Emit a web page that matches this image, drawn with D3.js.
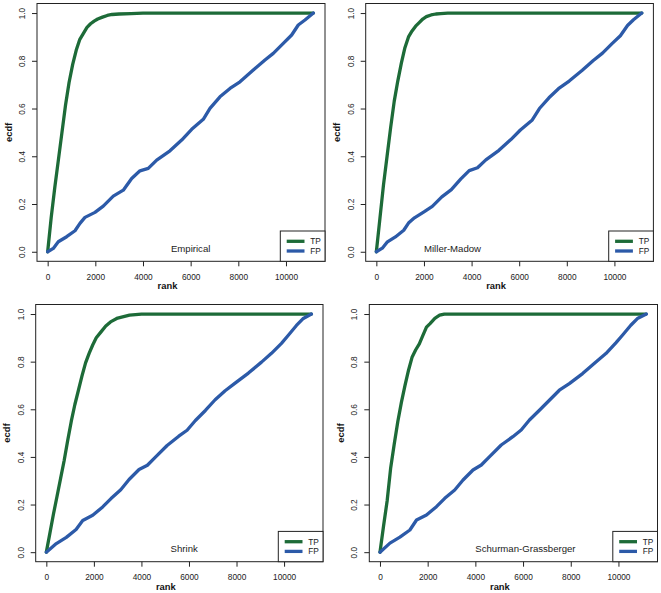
<!DOCTYPE html>
<html><head><meta charset="utf-8">
<script src="https://cdn.jsdelivr.net/npm/d3@7"></script>
<style>html,body{margin:0;padding:0;background:#fff;}svg{display:block;}</style>
</head><body>
<svg id="chart" width="661" height="593"></svg>
<script>
// ---- data ----
const panelNames = ["Empirical", "Miller-Madow", "Shrink", "Schurman-Grassberger"];
const labelRanks = [6000, 3200, 5800, 6100];
const seriesNames = ["TP", "FP"];
const xTicks = [0, 2000, 4000, 6000, 8000, 10000];
const yTicks = [0, 0.2, 0.4, 0.6, 0.8, 1.0];
const rankMax = 11190;

const tpRanks = [0,150,300,450,600,750,900,1050,1200,1350,1500,1650,1800,1950,2100,2300,2500,2700,3000,3500,4000,11150];
const tpEmpirical = [0,0.145,0.27,0.385,0.5,0.615,0.71,0.785,0.845,0.89,0.915,0.94,0.955,0.966,0.975,0.983,0.99,0.994,0.996,0.998,1,1];
const tpMillerMadow = [0,0.14,0.28,0.40,0.52,0.63,0.715,0.79,0.855,0.9,0.925,0.945,0.96,0.975,0.985,0.992,0.996,0.998,1,1,1,1];
const tpShrink = [0,0.08,0.16,0.235,0.31,0.385,0.47,0.55,0.62,0.68,0.74,0.795,0.835,0.87,0.9,0.925,0.95,0.967,0.983,0.995,1,1];
const tpSchurman = [0,0.11,0.215,0.355,0.455,0.55,0.63,0.70,0.765,0.82,0.85,0.875,0.91,0.945,0.96,0.982,0.995,1,1,1,1,1];

const fpEmpRank = [0,236,446,797,1146,1355,1565,1985,2333,2753,3173,3525,3873,4221,4574,5132,5623,6043,6530,6811,7230,7650,8070,8628,9119,9467,9887,10239,10516,10797,11150];
const fpEmpValue = [0,0.014,0.042,0.063,0.088,0.119,0.144,0.165,0.191,0.233,0.258,0.307,0.339,0.349,0.384,0.423,0.468,0.513,0.555,0.601,0.649,0.684,0.712,0.761,0.803,0.831,0.873,0.908,0.95,0.971,1];
const fpMmRank = [0,250,450,800,1150,1350,1600,2000,2350,2750,3150,3550,3900,4250,4600,5150,5650,6050,6550,6850,7250,7650,8100,8650,9100,9500,9900,10250,10550,10800,11150];
const fpMmValue = [0,0.015,0.04,0.062,0.09,0.12,0.142,0.167,0.19,0.23,0.26,0.305,0.34,0.352,0.385,0.425,0.47,0.51,0.552,0.6,0.645,0.683,0.715,0.76,0.8,0.832,0.872,0.905,0.948,0.972,1];
const fpShrRank = [0,420,840,1250,1530,1950,2370,2720,3130,3480,3900,4250,4600,5080,5570,5920,6270,6690,7100,7520,7940,8500,9050,9470,9890,10170,10520,10790,11150];
const fpShrValue = [0,0.036,0.062,0.095,0.133,0.155,0.19,0.225,0.262,0.305,0.347,0.365,0.4,0.448,0.487,0.512,0.553,0.595,0.64,0.678,0.71,0.752,0.798,0.835,0.877,0.91,0.952,0.98,1];
const fpSgRank = [0,418,836,1254,1533,1950,2368,2716,3134,3483,3900,4249,4597,5085,5572,5921,6268,6686,7104,7522,7940,8496,9055,9473,9891,10167,10518,10794,11170];
const fpSgValue = [0,0.038,0.063,0.093,0.135,0.156,0.191,0.226,0.261,0.303,0.345,0.366,0.401,0.45,0.485,0.513,0.555,0.596,0.638,0.68,0.708,0.75,0.799,0.834,0.879,0.911,0.953,0.981,1];

const tpValues = [tpEmpirical, tpMillerMadow, tpShrink, tpSchurman];
const fpRanks = [fpEmpRank, fpMmRank, fpShrRank, fpSgRank];
const fpValues = [fpEmpValue, fpMmValue, fpShrValue, fpSgValue];

// ---- layout ----
const boxes = [
  {L: 37,    R: 325,   T: 3.5,   B: 261.3},
  {L: 365.7, R: 653.4, T: 3.5,   B: 261.3},
  {L: 35.7,  R: 323,   T: 304.5, B: 561.7},
  {L: 369.3, R: 657.5, T: 304.5, B: 561.7}
];
const colors = {TP: "#1d6b38", FP: "#2c5aa8"};
const font = "'Liberation Sans', Arial, Helvetica, sans-serif";
const svg = d3.select("#chart").style("font-family", font);

boxes.forEach((b, i) => {
  const g = svg.append("g");
  const x = d3.scaleLinear().domain([-0.04 * rankMax, 1.04 * rankMax]).range([b.L, b.R]);
  const y = d3.scaleLinear().domain([-0.04, 1.04]).range([b.B, b.T]);

  // axes
  const xAxis = d3.axisBottom(x).tickValues(xTicks).tickFormat(d3.format("d")).tickSize(5).tickPadding(4);
  const gx = g.append("g").attr("transform", `translate(0,${b.B})`).call(xAxis);
  gx.select(".domain").remove();
  gx.selectAll("line").attr("stroke", "#222");
  gx.selectAll("text").attr("font-size", "8.3px").attr("fill", "#222").attr("font-family", font)
    .attr("y", 15.4).attr("dy", "0.35em");

  const yAxis = d3.axisLeft(y).tickValues(yTicks).tickFormat(d3.format(".1f")).tickSize(5);
  const gy = g.append("g").attr("transform", `translate(${b.L},0)`).call(yAxis);
  gy.select(".domain").remove();
  gy.selectAll("line").attr("stroke", "#222");
  gy.selectAll("text").attr("font-size", "8.3px").attr("fill", "#222").attr("font-family", font)
    .attr("x", null).attr("dy", "0.35em").attr("text-anchor", "middle")
    .attr("transform", "translate(-14.8,0) rotate(-90)");

  // lines
  const line = d3.line().x(d => x(d[0])).y(d => y(d[1]));
  const tpData = tpRanks.map((r, k) => [r, tpValues[i][k]]);
  const fpData = fpRanks[i].map((r, k) => [r, fpValues[i][k]]);
  const clip = "clip" + i;
  svg.append("clipPath").attr("id", clip).append("rect")
    .attr("x", b.L).attr("y", b.T).attr("width", b.R - b.L).attr("height", b.B - b.T);
  const lg = g.append("g").attr("clip-path", `url(#${clip})`);
  lg.append("path").datum(tpData).attr("d", line).attr("fill", "none")
    .attr("stroke", colors.TP).attr("stroke-width", 3.3).attr("stroke-linejoin", "round").attr("stroke-linecap", "round");
  lg.append("path").datum(fpData).attr("d", line).attr("fill", "none")
    .attr("stroke", colors.FP).attr("stroke-width", 3.3).attr("stroke-linejoin", "round").attr("stroke-linecap", "round");

  // method label
  g.append("text").attr("x", x(labelRanks[i])).attr("y", y(0.014)).attr("dy", "0.35em")
    .attr("text-anchor", "middle").attr("font-size", "9.6px").attr("fill", "#222").text(panelNames[i]);

  // box
  g.append("rect").attr("x", b.L).attr("y", b.T).attr("width", b.R - b.L).attr("height", b.B - b.T)
    .attr("fill", "none").attr("stroke", "#222").attr("stroke-width", 1);

  // legend
  const lgd = g.append("g");
  lgd.append("rect").attr("x", b.R - 44.7).attr("y", b.B - 30.3).attr("width", 44.7).attr("height", 30.3)
    .attr("fill", "#fff").attr("stroke", "#222").attr("stroke-width", 1);
  seriesNames.forEach((s, k) => {
    const yy = b.B - 20 + k * 9.7;
    lgd.append("line").attr("x1", b.R - 38.3).attr("x2", b.R - 20.5).attr("y1", yy).attr("y2", yy)
      .attr("stroke", colors[s]).attr("stroke-width", 3.3);
    lgd.append("text").attr("x", b.R - 14.7).attr("y", yy).attr("dy", "0.35em")
      .attr("font-size", "8.3px").attr("fill", "#222").text(s);
  });

  // axis titles
  g.append("text").attr("x", (b.L + b.R) / 2 - 13.5).attr("y", b.B + 28)
    .attr("text-anchor", "middle").attr("font-size", "9.4px").attr("font-weight", "bold").attr("fill", "#111").text("rank");
  g.append("text").attr("transform", `translate(${b.L - 28.5},${(b.T + b.B) / 2}) rotate(-90)`)
    .attr("dy", "0.35em").attr("text-anchor", "middle").attr("font-size", "9.4px").attr("font-weight", "bold")
    .attr("fill", "#111").text("ecdf");
});
</script>
</body></html>
